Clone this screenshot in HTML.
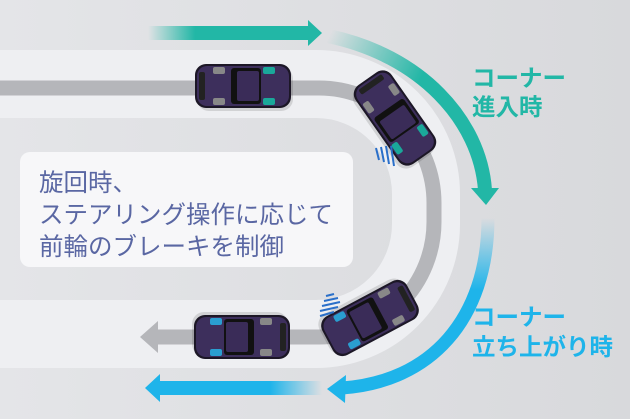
<!DOCTYPE html>
<html><head><meta charset="utf-8"><style>
html,body{margin:0;padding:0;background:#dcdde0;}
svg{display:block}
</style></head><body>
<svg width="630" height="419" viewBox="0 0 630 419" xmlns="http://www.w3.org/2000/svg" font-family="'Liberation Sans','Noto Sans CJK JP',sans-serif">
<defs>
<linearGradient id="bg" x1="0" y1="0" x2="1" y2="0"><stop offset="0" stop-color="#e4e5e8"/><stop offset="1" stop-color="#d8d9dc"/></linearGradient>
<linearGradient id="tg1" gradientUnits="userSpaceOnUse" x1="148" y1="0" x2="195" y2="0"><stop offset="0" stop-color="#22b7a6" stop-opacity="0"/><stop offset="1" stop-color="#22b7a6"/></linearGradient>
<linearGradient id="tg2" gradientUnits="userSpaceOnUse" x1="330" y1="35" x2="420" y2="80"><stop offset="0" stop-color="#22b7a6" stop-opacity="0"/><stop offset="1" stop-color="#22b7a6"/></linearGradient>
<linearGradient id="bg1" gradientUnits="userSpaceOnUse" x1="322" y1="0" x2="270" y2="0"><stop offset="0" stop-color="#1eb4ea" stop-opacity="0"/><stop offset="1" stop-color="#1eb4ea"/></linearGradient>
<linearGradient id="bg2" gradientUnits="userSpaceOnUse" x1="0" y1="218" x2="0" y2="290"><stop offset="0" stop-color="#1eb4ea" stop-opacity="0"/><stop offset="1" stop-color="#1eb4ea"/></linearGradient>
<g id="car">
  <rect x="-46" y="-19" width="96" height="44" rx="12" fill="#000" opacity="0.12"/>
  <rect x="-48" y="-22" width="96" height="44" rx="11" fill="#1c1726"/>
  <rect x="-46" y="-20" width="92" height="40" rx="10" fill="#3d2f5c"/>
  <rect x="-12" y="-18" width="30" height="36" rx="3" fill="#111"/>
  <rect x="-6" y="-15" width="22" height="30" rx="2" fill="#3a2c58"/>
  <rect x="-44" y="-14" width="6" height="28" rx="2" fill="#222"/>
</g>
</defs>
<rect width="630" height="419" fill="url(#bg)"/>
<path d="M-10,84 H316 A110,110 0 0 1 426,194 V224 A110,110 0 0 1 316,334 H-10" fill="none" stroke="#eeeff2" stroke-width="68"/>
<path d="M-10,88 H319 A115,115 0 0 1 434,203 V222 A115,115 0 0 1 319,337 H158" fill="none" stroke="#b5b6ba" stroke-width="15"/>
<polygon points="140,337 158,321 158,353" fill="#b5b6ba"/>
<rect x="148" y="26" width="162" height="14" fill="url(#tg1)"/>
<polygon points="308,20 322,33 308,46" fill="#22b7a6"/>
<path d="M328,36 C 420,55 480,120 485,190" fill="none" stroke="url(#tg2)" stroke-width="14"/>
<polygon points="471,188 499,188 486,205" fill="#22b7a6"/>
<rect x="156" y="381" width="166" height="14" fill="url(#bg1)"/>
<polygon points="145,388 160,374 160,402" fill="#1eb4ea"/>
<path d="M488,218 C 488,320 430,382 342,388" fill="none" stroke="url(#bg2)" stroke-width="13"/>
<polygon points="327,389 346,375 345,403" fill="#1eb4ea"/>
<g transform="translate(243,86)"><use href="#car"/><rect x="20" y="-19" width="12" height="7" rx="2" fill="#1aa89a"/><rect x="20" y="12" width="12" height="7" rx="2" fill="#1aa89a"/><rect x="-30" y="-19" width="12" height="7" rx="2" fill="#888"/><rect x="-30" y="12" width="12" height="7" rx="2" fill="#888"/></g>
<g transform="translate(395,118) rotate(55)"><use href="#car"/><rect x="20" y="-19" width="12" height="7" rx="2" fill="#1aa89a"/><rect x="20" y="12" width="12" height="7" rx="2" fill="#1aa89a"/><rect x="-30" y="-19" width="12" height="7" rx="2" fill="#888"/><rect x="-30" y="12" width="12" height="7" rx="2" fill="#888"/></g>
<g transform="translate(242,337) rotate(180)"><use href="#car"/><rect x="20" y="-19" width="12" height="7" rx="2" fill="#2a9ed0"/><rect x="20" y="12" width="12" height="7" rx="2" fill="#2a9ed0"/><rect x="-30" y="-19" width="12" height="7" rx="2" fill="#888"/><rect x="-30" y="12" width="12" height="7" rx="2" fill="#888"/></g>
<g transform="translate(370,318) rotate(152)"><use href="#car"/><rect x="20" y="-19" width="12" height="7" rx="2" fill="#2a9ed0"/><rect x="20" y="12" width="12" height="7" rx="2" fill="#2a9ed0"/><rect x="-30" y="-19" width="12" height="7" rx="2" fill="#888"/><rect x="-30" y="12" width="12" height="7" rx="2" fill="#888"/></g>
<g stroke="#2a6fc9" stroke-width="2">
<line x1="376" y1="148" x2="379" y2="160"/><line x1="381" y1="147" x2="384" y2="162"/><line x1="386" y1="146" x2="389" y2="164"/><line x1="391" y1="146" x2="394" y2="166"/>
<line x1="326" y1="296" x2="334" y2="294"/><line x1="324" y1="301" x2="338" y2="298"/><line x1="322" y1="306" x2="340" y2="302"/><line x1="320" y1="311" x2="338" y2="307"/><line x1="320" y1="316" x2="334" y2="312"/>
</g>
<rect x="20" y="152" width="333" height="115" rx="10" fill="#f7f7f9"/>
<g fill="#5a67a3" font-size="24.5">
<text x="39" y="191">旋回時、</text>
<text x="39" y="223">ステアリング操作に応じて</text>
<text x="39" y="255">前輪のブレーキを制御</text>
</g>
<g font-size="23.5" font-weight="bold">
<text x="472" y="86" fill="#22b7a6">コーナー</text>
<text x="472" y="115" fill="#22b7a6">進入時</text>
<text x="472" y="325" fill="#1eb4ea">コーナー</text>
<text x="472" y="355" fill="#1eb4ea">立ち上がり時</text>
</g>
</svg>
</body></html>
